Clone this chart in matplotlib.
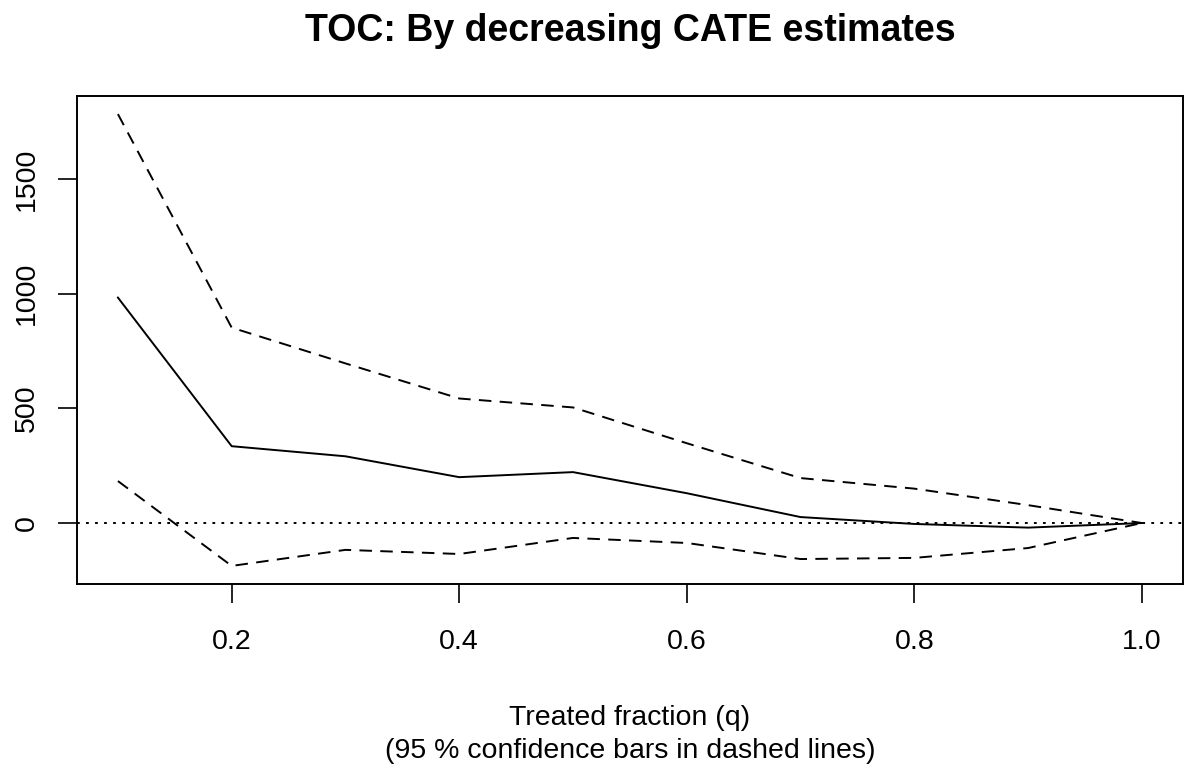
import matplotlib
matplotlib.use("Agg")
import matplotlib.pyplot as plt

# treated fraction and TOC estimates
q = [0.1, 0.2, 0.3, 0.4, 0.5, 0.6, 0.7, 0.8, 0.9, 1.0]
toc = [983, 335, 291, 200, 222, 130, 26, -4, -20, 0]
upper = [1783, 852, 696, 543, 504, 348, 196, 150, 78, 0]
lower = [183, -187, -117, -135, -65, -87, -157, -152, -109, 0]

x_ticks = [0.2, 0.4, 0.6, 0.8, 1.0]
y_ticks = [0, 500, 1000, 1500]

plt.rcParams["font.family"] = ["Liberation Sans", "DejaVu Sans"]
plt.rcParams["lines.scale_dashes"] = False

fig = plt.figure(figsize=(11.84, 7.67), dpi=100)
ax = fig.add_axes([0.065, 0.2386, 0.934, 0.6362])

lw = 1.4
ax.plot(q, toc, color="black", lw=lw)
ax.plot(q, upper, color="black", lw=lw, dashes=(9, 6))
ax.plot(q, lower, color="black", lw=lw, dashes=(9, 6))
ax.axhline(0, color="black", lw=lw, dashes=(2, 4.5))

# R style 4% padding
def padded(lo, hi):
    d = (hi - lo) * 0.04
    return lo - d, hi + d

ax.set_xlim(*padded(min(q), max(q)))
ax.set_ylim(*padded(min(lower), max(upper)))

ax.set_xticks(x_ticks)
ax.set_xticklabels(["%.1f" % v for v in x_ticks])
ax.set_yticks(y_ticks)
ax.set_yticklabels([str(v) for v in y_ticks], rotation=90, va="center")

ax.tick_params(axis="both", length=13.5, width=1.2, labelsize=20.5)
ax.tick_params(axis="x", pad=19)
ax.tick_params(axis="y", pad=13)
for s in ax.spines.values():
    s.set_linewidth(1.4)

ax.set_xlabel("Treated fraction (q)\n(95 % confidence bars in dashed lines)",
              fontsize=20.5, labelpad=36, linespacing=1.35)
fig.text(0.532, 1 - 41 / 767., "TOC: By decreasing CATE estimates",
         fontsize=27, fontweight="bold", ha="center", va="baseline")

fig.savefig("out.png", dpi=100)
